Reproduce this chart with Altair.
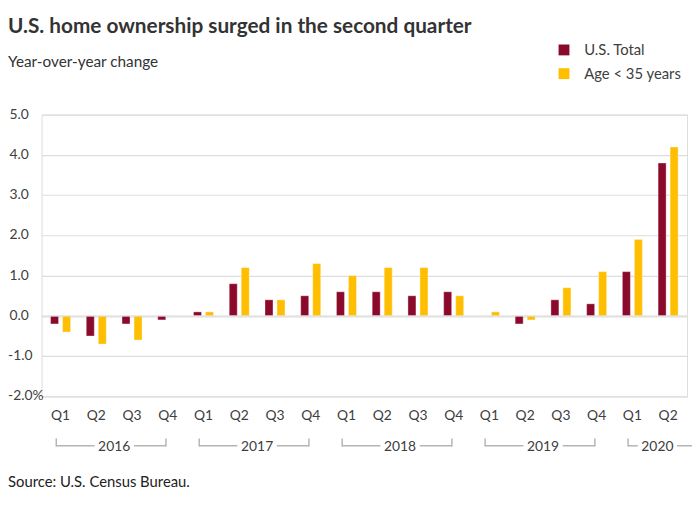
import altair as alt
import pandas as pd

# ---- data ----
years = ["2016"] * 4 + ["2017"] * 4 + ["2018"] * 4 + ["2019"] * 4 + ["2020"] * 2
quarters = ["Q1", "Q2", "Q3", "Q4"] * 4 + ["Q1", "Q2"]
us_total = [-0.2, -0.5, -0.2, -0.1,
            0.1, 0.8, 0.4, 0.5,
            0.6, 0.6, 0.5, 0.6,
            0.0, -0.2, 0.4, 0.3,
            1.1, 3.8]
under_35 = [-0.4, -0.7, -0.6, 0.0,
            0.1, 1.2, 0.4, 1.3,
            1.0, 1.2, 1.2, 0.5,
            0.1, -0.1, 0.7, 1.1,
            1.9, 4.2]
series_names = ["U.S. Total", "Age < 35 years"]
series_colors = ["#8b0a2b", "#ffbf00"]
y_ticks = [-2, -1, 0, 1, 2, 3, 4, 5]

title_text = "U.S. home ownership surged in the second quarter"
subtitle_text = "Year-over-year change"
source_text = "Source: U.S. Census Bureau."

# ---- build tables ----
periods = [f"{y} {q}" for y, q in zip(years, quarters)]
rows = []
for p, a, b in zip(periods, us_total, under_35):
    rows.append({"period": p, "series": series_names[0], "value": a})
    rows.append({"period": p, "series": series_names[1], "value": b})
df = pd.DataFrame(rows)

W, H = 653, 285
PI, PO = 0.44, 0.25
n = len(periods)
lo = -(PO + (1 - PI) / 2)
hi = lo + n - PI + 2 * PO

# year brackets in quarter-index units (same geometry as the band scale)
year_order = list(dict.fromkeys(years))
hseg, vseg, labels = [], [], []
for yname in year_order:
    idx = [i for i, y in enumerate(years) if y == yname]
    s, e = idx[0], idx[-1]
    full = len(idx) == 4
    mid = (s + e) / 2 if full else s + 0.7
    left = s - 0.12
    right = e - 0.05 if full else hi + 1.0
    hseg.append({"a": left, "b": mid - 0.55})
    hseg.append({"a": mid + 0.55, "b": right})
    vseg.append({"a": left})
    if full:
        vseg.append({"a": right})
    labels.append({"a": mid, "year": yname})
hdf, vdf, ldf = pd.DataFrame(hseg), pd.DataFrame(vseg), pd.DataFrame(labels)

FONT = "Lato"
TXT = "#404040"

xq = alt.Scale(domain=[lo, hi], nice=False, zero=False)
yscale = alt.Scale(domain=[-2, 5], nice=False)

bars = alt.Chart(df).mark_bar(stroke="white", strokeWidth=1, strokeOpacity=0.35).encode(
    x=alt.X("period:N", sort=periods,
            scale=alt.Scale(paddingInner=PI, paddingOuter=PO),
            axis=alt.Axis(title=None, labelExpr="split(datum.label, ' ')[1]",
                          ticks=False, domain=False, grid=False, labelAngle=0,
                          labelPadding=12, labelFontSize=14, labelFont=FONT,
                          labelColor=TXT)),
    xOffset=alt.XOffset("series:N", sort=series_names,
                        scale=alt.Scale(paddingInner=1 / 3, paddingOuter=0)),
    y=alt.Y("value:Q", scale=yscale,
            axis=alt.Axis(title=None, values=y_ticks, grid=True, gridColor="#dddddd",
                          gridWidth=1.2, ticks=False, domain=False, labels=False)),
    color=alt.Color("series:N", sort=series_names,
                    scale=alt.Scale(domain=series_names, range=series_colors),
                    legend=alt.Legend(title=None, orient="none", legendX=521, legendY=-73,
                                      symbolType="square", symbolSize=121,
                                      symbolStrokeWidth=0, labelFontSize=15,
                                      labelFont=FONT, labelColor=TXT, rowPadding=8,
                                      labelOffset=13)),
)

zero = alt.Chart(pd.DataFrame({"v": [0]})).mark_rule(
    color="#dddddd", strokeWidth=2, opacity=0.6).encode(y=alt.Y("v:Q", scale=yscale))

# y-axis tick labels drawn through the y scale
ylab_src = alt.Chart(pd.DataFrame({"v": y_ticks})).transform_calculate(
    lab="(datum.v < 0 ? '-' : '') + format(abs(datum.v), '.1f') + (datum.v == -2 ? '%' : '')"
)
ylab_pos = ylab_src.transform_filter("datum.v >= 0").mark_text(
    fontSize=14, font=FONT, color=TXT, align="right", baseline="middle").encode(
    y=alt.Y("v:Q", scale=yscale), x=alt.value(-13), text="lab:N")
ylab_neg = ylab_src.transform_filter("datum.v < 0").mark_text(
    fontSize=14, font=FONT, color=TXT, align="left", baseline="middle").encode(
    y=alt.Y("v:Q", scale=yscale), x=alt.value(-34), text="lab:N")

brack_h = alt.Chart(hdf).mark_rule(color="#b5b5b5", strokeWidth=1.5).encode(
    x=alt.X("a:Q", scale=xq, axis=None), x2="b:Q", y=alt.value(335))
brack_v = alt.Chart(vdf).mark_rule(color="#b5b5b5", strokeWidth=1.5).encode(
    x=alt.X("a:Q", scale=xq, axis=None), y=alt.value(327.5), y2=alt.value(335.7))
year_lab = alt.Chart(ldf).mark_text(fontSize=14, font=FONT, color=TXT, baseline="middle").encode(
    x=alt.X("a:Q", scale=xq, axis=None), y=alt.value(336), text="year:N")
source = alt.Chart(pd.DataFrame({"t": [source_text]})).mark_text(
    fontSize=15, font=FONT, color="#222222", align="left", baseline="alphabetic").encode(
    x=alt.value(-34), y=alt.value(377), text="t:N")

chart = alt.layer(bars, zero, ylab_pos, ylab_neg, brack_h, brack_v, year_lab, source).resolve_scale(
    x="independent"
).properties(
    width=W, height=H,
    autosize=alt.AutoSizeParams(type="none"),
    padding={"left": 34, "top": 105, "right": 5, "bottom": 111},
    title=alt.Title(text=title_text, subtitle=subtitle_text, anchor="start",
                    frame="group", dx=-34, fontSize=21, font=FONT, fontWeight="bold",
                    color="#333333", subtitleFont=FONT, subtitleFontSize=15.5,
                    subtitleColor="#333333", subtitlePadding=18, offset=-28),
).configure_view(stroke=None).configure(background="white")

chart.save("out.html", embed_options={"renderer": "svg", "actions": False})
